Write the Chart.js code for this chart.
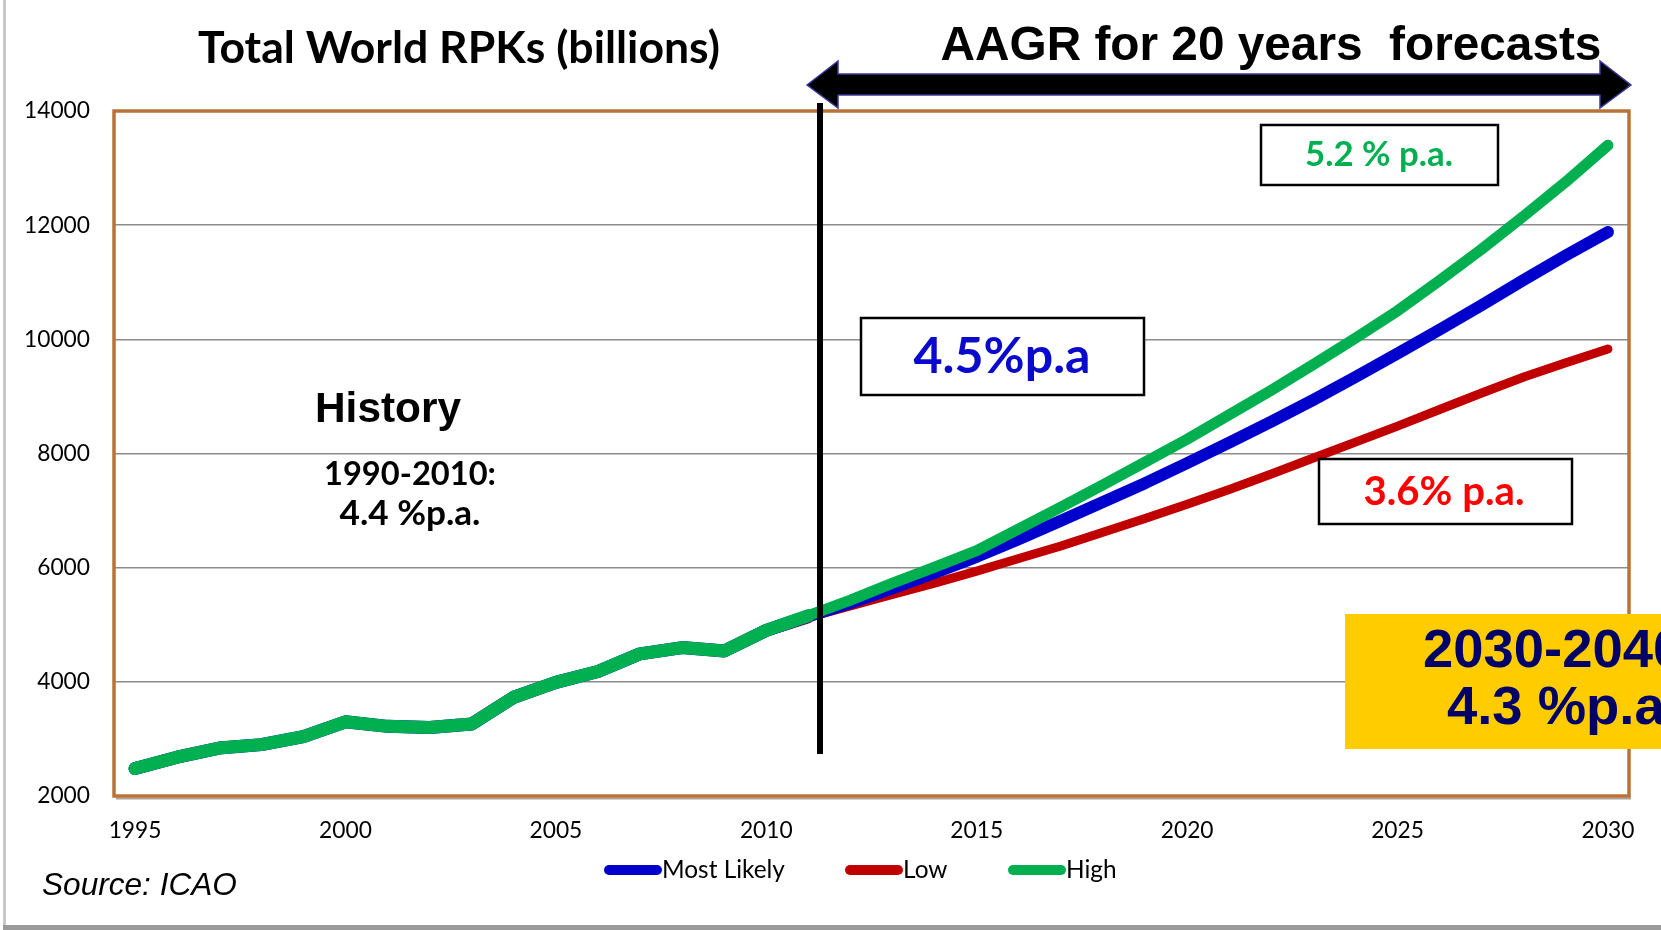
<!DOCTYPE html>
<html><head><meta charset="utf-8">
<script src="https://cdn.jsdelivr.net/npm/chart.js@4.4.1/dist/chart.umd.min.js"></script>
<style>html,body{margin:0;padding:0;background:#fff;overflow:hidden}#wrap{position:relative;width:1661px;height:930px}</style>
</head><body><div id="wrap"><canvas id="c" width="1661" height="930"></canvas></div>
<script>
// ---------- data ----------
const years = ['1995','1996','1997','1998','1999','2000','2001','2002','2003','2004','2005','2006','2007','2008','2009','2010','2011','2012','2013','2014','2015','2016','2017','2018','2019','2020','2021','2022','2023','2024','2025','2026','2027','2028','2029','2030'];
const mostLikely = [2480,2680,2840,2900,3040,3300,3220,3200,3260,3730,3990,4180,4490,4600,4540,4900,5150,5380,5640,5910,6190,6500,6820,7150,7480,7830,8190,8560,8940,9340,9750,10170,10600,11040,11470,11880];
const low        = [2480,2680,2840,2900,3040,3300,3220,3200,3260,3730,3990,4180,4490,4600,4540,4900,5130,5330,5530,5730,5940,6160,6380,6620,6860,7110,7370,7640,7920,8200,8480,8770,9060,9340,9590,9830];
const high       = [2480,2680,2840,2900,3040,3300,3220,3200,3260,3730,3990,4180,4490,4600,4540,4900,5160,5430,5730,6010,6300,6680,7060,7450,7850,8250,8680,9110,9560,10020,10500,11030,11580,12160,12760,13400];
const xTickLabels = ['1995','2000','2005','2010','2015','2020','2025','2030'];
const yMin = 2000, yMax = 14000, yStep = 2000;
const seriesNames = ['Most Likely','Low','High'];
const seriesColors = ['#0000CC','#C00000','#00B050'];
const historyEndIndex = 16;

// ---------- fonts ----------
const CAL = 'Lato, "Open Sans", sans-serif';
const ARI = '"Liberation Sans", Arial, sans-serif';
const NAR = '"Liberation Sans Narrow", "Liberation Sans", Arial, sans-serif';
const mctx = document.createElement('canvas').getContext('2d');
function fit(text, family, weight, style, w) {
  mctx.font = `${style} ${weight} 100px ${family}`;
  return 100 * w / mctx.measureText(text).width;
}
const tickSize = fit('14000', CAL, 'normal', 'normal', 66);
const legendSize = fit('Most Likely', CAL, 'normal', 'normal', 123);

function txt(ctx, text, x, y, family, weight, style, width, color, align) {
  const size = fit(text, family, weight, style, width);
  ctx.font = `${style} ${weight} ${size}px ${family}`;
  ctx.fillStyle = color;
  ctx.textAlign = align || 'center';
  ctx.textBaseline = 'middle';
  ctx.fillText(text, x, y);
  return size;
}

const overlay = {
  id: 'overlay',
  afterDraw(chart) {
    const ctx = chart.ctx;
    const a = chart.chartArea;
    ctx.save();
    // plot border
    ctx.strokeStyle = 'rgba(120,100,80,0.6)';
    ctx.lineWidth = 2;
    ctx.beginPath(); ctx.moveTo(a.left + 2, a.bottom + 2.5); ctx.lineTo(a.right + 2, a.bottom + 2.5); ctx.stroke();
    ctx.strokeStyle = '#B8733A';
    ctx.lineWidth = 3.5;
    ctx.strokeRect(a.left, a.top, a.right - a.left, a.bottom - a.top);

    // vertical divider
    ctx.fillStyle = '#000';
    ctx.fillRect(817, 103, 6, 651);

    // double arrow
    ctx.beginPath();
    ctx.moveTo(807, 85); ctx.lineTo(838, 61); ctx.lineTo(838, 74); ctx.lineTo(1600, 74);
    ctx.lineTo(1600, 61); ctx.lineTo(1631, 85); ctx.lineTo(1600, 108); ctx.lineTo(1600, 95);
    ctx.lineTo(838, 95); ctx.lineTo(838, 108); ctx.closePath();
    ctx.fillStyle = '#000'; ctx.fill();
    ctx.strokeStyle = '#3a3a9a'; ctx.lineWidth = 1.5; ctx.stroke();

    // titles
    txt(ctx, 'Total World RPKs (billions)', 459, 49, CAL, 'bold', 'normal', 522, '#000');
    txt(ctx, 'AAGR for 20 years  forecasts', 1271, 47, NAR, 'bold', 'normal', 661, '#000');

    // history notes
    txt(ctx, 'History', 388, 410, ARI, 'bold', 'normal', 146, '#000');
    txt(ctx, '1990-2010:', 410, 474, CAL, 'bold', 'normal', 172, '#000');
    txt(ctx, '4.4 %p.a.', 410, 514, CAL, 'bold', 'normal', 141, '#000');

    // boxes
    function box(x, y, w, h) {
      ctx.fillStyle = '#fff'; ctx.fillRect(x, y, w, h);
      ctx.strokeStyle = '#000'; ctx.lineWidth = 2.5; ctx.strokeRect(x, y, w, h);
    }
    box(1261, 125, 237, 60);
    txt(ctx, '5.2 % p.a.', 1379, 155, CAL, 'bold', 'normal', 148, '#00B050');
    box(861, 318, 283, 77);
    txt(ctx, '4.5%p.a', 1002, 357, CAL, 'bold', 'normal', 177, '#0A0ACC');
    box(1319, 459, 253, 65);
    txt(ctx, '3.6% p.a.', 1444, 492, CAL, 'bold', 'normal', 161, '#FF0000');

    // yellow box
    ctx.fillStyle = '#FFCC00';
    ctx.fillRect(1345, 614, 330, 135);
    const s = fit('2030-204', NAR, 'bold', 'normal', 230);
    ctx.font = `normal bold ${s}px ${NAR}`;
    ctx.fillStyle = '#000066'; ctx.textAlign = 'left'; ctx.textBaseline = 'middle';
    ctx.fillText('2030-2040', 1423, 652);
    ctx.fillText('4.3 %p.a', 1447, 709);

    // legend (from datasets)
    const legendX = [604, 845, 1008];
    ctx.font = `normal normal ${legendSize}px ${CAL}`;
    ctx.textAlign = 'left'; ctx.textBaseline = 'middle';
    chart.data.datasets.forEach((ds, i) => {
      const x = legendX[i], y = 870;
      ctx.strokeStyle = ds.borderColor;
      ctx.lineWidth = 10; ctx.lineCap = 'round';
      ctx.beginPath(); ctx.moveTo(x + 5, y); ctx.lineTo(x + 53, y); ctx.stroke();
      ctx.fillStyle = '#000';
      ctx.fillText(ds.label, x + 58, y);
    });

    // source
    txt(ctx, 'Source: ICAO', 42, 886, NAR, 'normal', 'italic', 195, '#000', 'left');

    // page frame
    ctx.fillStyle = '#c8c8c8'; ctx.fillRect(3, 0, 3, 930);
    ctx.fillStyle = '#9a9a9a'; ctx.fillRect(3, 925, 1661, 5);
    ctx.restore();
  }
};

const widthFor = (hist, fore) => (c) => (c.p1DataIndex <= historyEndIndex ? hist : fore);

new Chart(document.getElementById('c'), {
  type: 'line',
  data: {
    labels: years,
    datasets: [
      { label: seriesNames[0], data: mostLikely, borderColor: seriesColors[0], backgroundColor: seriesColors[0], borderWidth: 12, order: 1, segment: { borderWidth: widthFor(13, 12) } },
      { label: seriesNames[1], data: low, borderColor: seriesColors[1], backgroundColor: seriesColors[1], borderWidth: 9, order: 2, segment: { borderWidth: widthFor(12, 9) } },
      { label: seriesNames[2], data: high, borderColor: seriesColors[2], backgroundColor: seriesColors[2], borderWidth: 12, order: 0, segment: { borderWidth: widthFor(13, 11) } }
    ]
  },
  options: {
    responsive: false,
    animation: false,
    layout: { padding: { left: 0, top: 111, right: 32, bottom: 74 } },
    elements: {
      point: { radius: 0, hoverRadius: 0 },
      line: { tension: 0, borderCapStyle: 'round', borderJoinStyle: 'round' }
    },
    scales: {
      x: {
        type: 'category',
        offset: true,
        grid: { display: false, drawTicks: false },
        border: { display: false },
        ticks: {
          autoSkip: false, maxRotation: 0, minRotation: 0, padding: 21, color: '#000',
          font: { family: CAL, size: tickSize },
          callback: function (v) { const l = this.getLabelForValue(v); return xTickLabels.includes(l) ? l : ''; }
        },
        afterFit: s => { s.height = 60; }
      },
      y: {
        min: yMin, max: yMax,
        ticks: { stepSize: yStep, padding: 24, color: '#000', font: { family: CAL, size: tickSize }, callback: v => String(v) },
        grid: { color: '#8c8c8c', lineWidth: 1.5, drawTicks: false },
        border: { display: false },
        afterFit: s => { s.width = 114; }
      }
    },
    plugins: {
      legend: { display: false },
      tooltip: { enabled: false }
    }
  },
  plugins: [overlay]
});
</script>
</body></html>
